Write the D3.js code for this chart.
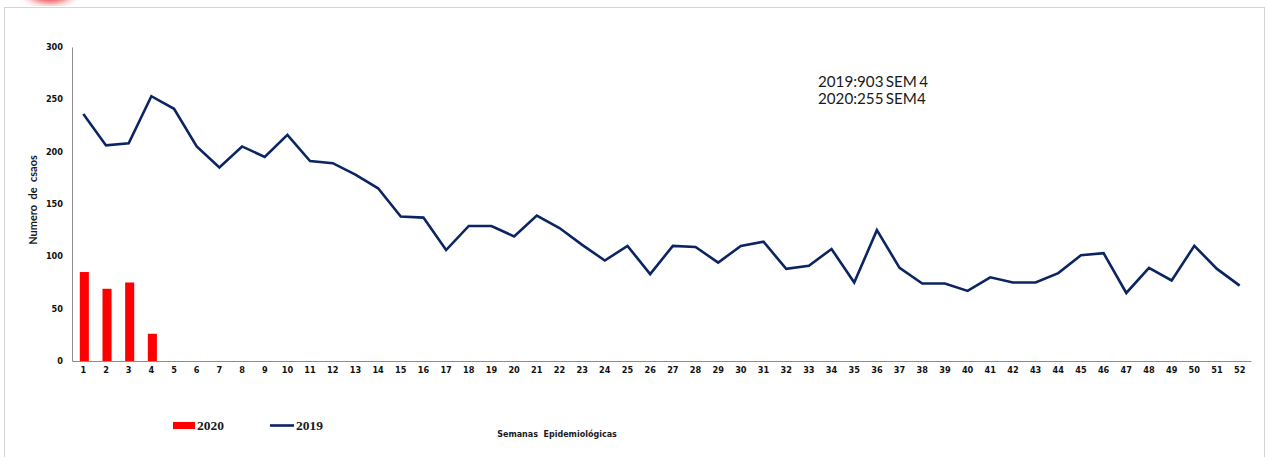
<!DOCTYPE html>
<html lang="es">
<head>
<meta charset="UTF-8">
<title>Semanas Epidemiológicas</title>
<script src="https://d3js.org/d3.v7.min.js"></script>
<style>
  body { margin: 0; background: #fff; }
  svg { display: block; }
</style>
</head>
<body>
<div id="chart"></div>
<script>
// data
const weeks = d3.range(1, 53).map(String);
const cases2019 = [236, 206, 208, 253, 241, 205, 185, 205, 195, 216,
                   191, 189, 178, 165, 138, 137, 106, 129, 129, 119,
                   139, 127, 111, 96, 110, 83, 110, 109, 94, 110,
                   114, 88, 91, 107, 75, 125, 89, 74, 74, 67,
                   80, 75, 75, 84, 101, 103, 65, 89, 77, 110,
                   88, 72];
const weeks2020 = ["1", "2", "3", "4"];
const cases2020 = [85, 69, 75, 26];
const yTicks = [0, 50, 100, 150, 200, 250, 300];
const notes = ["2019:903 SEM 4", "2020:255 SEM4"];

const W = 1268, H = 457;
const plotLeft = 72, plotRight = 1251, plotTop = 47, plotBottom = 361;

const svg = d3.select("#chart").append("svg")
    .attr("width", W).attr("height", H);

// red glow at the top-left corner
const defs = svg.append("defs");
defs.append("filter").attr("id", "blur")
    .append("feGaussianBlur").attr("stdDeviation", 4);
svg.append("ellipse")
    .attr("cx", 50).attr("cy", -14).attr("rx", 26).attr("ry", 16)
    .attr("fill", "#e8202a").attr("filter", "url(#blur)");

// outer frame
svg.append("rect")
    .attr("x", 4.5).attr("y", 7.5)
    .attr("width", 1260).attr("height", 470)
    .attr("fill", "none").attr("stroke", "#d4d4d4");

const x = d3.scaleBand().domain(weeks).range([plotLeft, plotRight]);
const y = d3.scaleLinear().domain([0, 300]).range([plotBottom, plotTop]);

// axes
const gx = svg.append("g")
    .attr("transform", `translate(0,${plotBottom})`)
    .call(d3.axisBottom(x).tickSize(0).tickPadding(6));
const gy = svg.append("g")
    .attr("transform", `translate(${plotLeft},0)`)
    .call(d3.axisLeft(y).tickValues(yTicks).tickSize(0).tickPadding(9));

[gx, gy].forEach(g => {
  g.select(".domain").attr("stroke", "#8c8c8c").attr("stroke-width", 1);
  g.selectAll("text")
    .attr("font-family", "DejaVu Sans, Verdana, sans-serif")
    .attr("font-weight", "bold")
    .attr("font-size", "8.2px")
    .attr("fill", "#111");
});

// 2020 bars
const bw = x.bandwidth() * 0.4;
svg.append("g").selectAll("rect")
  .data(weeks2020)
  .join("rect")
    .attr("x", d => x(d) + x.bandwidth() / 2 - bw / 2 + 1)
    .attr("y", (d, i) => y(cases2020[i]))
    .attr("width", bw)
    .attr("height", (d, i) => y(0) - y(cases2020[i]))
    .attr("fill", "#ff0000");

// 2019 line
const line = d3.line()
    .x((d, i) => x(weeks[i]) + x.bandwidth() / 2)
    .y(d => y(d));
svg.append("path")
    .datum(cases2019)
    .attr("fill", "none")
    .attr("stroke", "#0b2562")
    .attr("stroke-width", 2.6)
    .attr("d", line);

// y label
svg.append("text")
    .attr("transform", `translate(37,200) rotate(-90)`)
    .attr("text-anchor", "middle")
    .attr("font-family", "Lato, sans-serif")
    .attr("font-weight", "bold")
    .attr("font-size", "11px")
    .attr("fill", "#1a1a1a")
    .attr("xml:space", "preserve")
    .text("Numero  de  csaos");

// x label
svg.append("text")
    .attr("x", 557).attr("y", 437)
    .attr("text-anchor", "middle")
    .attr("font-family", "DejaVu Sans, Verdana, sans-serif")
    .attr("font-weight", "bold")
    .attr("font-size", "8px")
    .attr("fill", "#1a1a1a")
    .attr("xml:space", "preserve")
    .text("Semanas  Epidemiológicas");

// annotation
svg.append("g").selectAll("text")
  .data(notes)
  .join("text")
    .attr("x", 818)
    .attr("y", (d, i) => 86.5 + i * 17)
    .attr("font-family", "Lato, sans-serif")
    .attr("font-size", "15.2px")
    .attr("word-spacing", "-1.5px")
    .attr("fill", "#1a1a1a")
    .text(d => d);

// legend
const lg = svg.append("g");
lg.append("rect")
    .attr("x", 173).attr("y", 422).attr("width", 22).attr("height", 7)
    .attr("fill", "#ff0000");
lg.append("text")
    .attr("x", 197).attr("y", 430)
    .attr("font-family", "Liberation Serif, serif")
    .attr("font-weight", "bold").attr("font-size", "13.5px")
    .attr("fill", "#1a1a1a")
    .text("2020");
lg.append("line")
    .attr("x1", 270).attr("x2", 294).attr("y1", 425.5).attr("y2", 425.5)
    .attr("stroke", "#0b2562").attr("stroke-width", 2.6);
lg.append("text")
    .attr("x", 296).attr("y", 430)
    .attr("font-family", "Liberation Serif, serif")
    .attr("font-weight", "bold").attr("font-size", "13.5px")
    .attr("fill", "#1a1a1a")
    .text("2019");
</script>
</body>
</html>
